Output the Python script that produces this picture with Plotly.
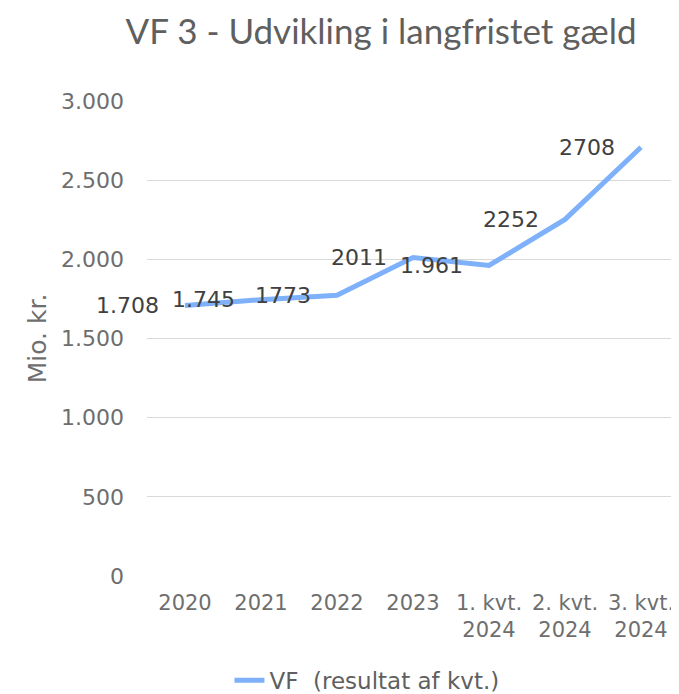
import plotly.graph_objects as go

# categories and values
categories = ["2020", "2021", "2022", "2023", "1. kvt.<br>2024", "2. kvt.<br>2024", "3. kvt.<br>2024"]
gaeld = [1708, 1745, 1773, 2011, 1961, 2252, 2708]
point_labels = ["1.708", "1.745", "1773", "2011", "1.961", "2252", "2708"]
y_ticks = [0, 500, 1000, 1500, 2000, 2500, 3000]

LINE_BLUE = "#7FB1FA"
FONT = "DejaVu Sans"

fig = go.Figure()
fig.add_trace(go.Scatter(
    x=categories,
    y=gaeld,
    mode="lines",
    name="VF  (resultat af kvt.)",
    line=dict(color=LINE_BLUE, width=5),
))

# data labels sit to the left of each point, as in the original
# (x given as category index so the numeric-looking names aren't read as numbers)
for i, (val, lab) in enumerate(zip(gaeld, point_labels)):
    fig.add_annotation(
        x=i, y=val, text=lab,
        showarrow=False, xanchor="right", yanchor="middle",
        xshift=-24,
        font=dict(family=FONT, size=22, color="#404040"),
    )

# page body adds an 8px margin, so the figure is 8px smaller than the window
fig.update_layout(
    width=671,
    height=686,
    paper_bgcolor="white",
    plot_bgcolor="white",
    separators=",.",
    font=dict(family=FONT, size=22, color="#6E6E6E"),
    title=dict(
        text="VF 3 - Udvikling i langfristet gæld",
        x=0.556, xref="container", xanchor="center",
        y=0.965, yref="container", yanchor="middle",
        font=dict(family="Lato", size=35, color="#5F5F5F"),
    ),
    margin=dict(l=139, r=0, t=93, b=118),
    showlegend=True,
    legend=dict(
        orientation="h",
        x=0.155, xanchor="left",
        y=0.02, yref="container", yanchor="middle",
        font=dict(family=FONT, size=23, color="#5F5F5F"),
    ),
    xaxis=dict(
        type="category",
        range=[-0.5, len(categories) - 0.5],
        automargin=False,
        tickangle=0,
        ticklabeloverflow="allow",
        showgrid=False,
        showline=False,
        ticks="",
        ticklabelstandoff=12,
        tickfont=dict(family=FONT, size=21, color="#6E6E6E"),
    ),
    yaxis=dict(
        range=[0, 3000],
        automargin=False,
        tickvals=y_ticks,
        tickformat=",d",
        showgrid=True,
        gridcolor="#D9D9D9",
        gridwidth=1,
        zeroline=False,
        showline=False,
        ticks="",
        ticklabelstandoff=22,
        tickfont=dict(family=FONT, size=22, color="#6E6E6E"),
        title=dict(text="Mio. kr.", standoff=7,
                   font=dict(family=FONT, size=25, color="#6E6E6E")),
    ),
)

fig.write_html("out.html")
